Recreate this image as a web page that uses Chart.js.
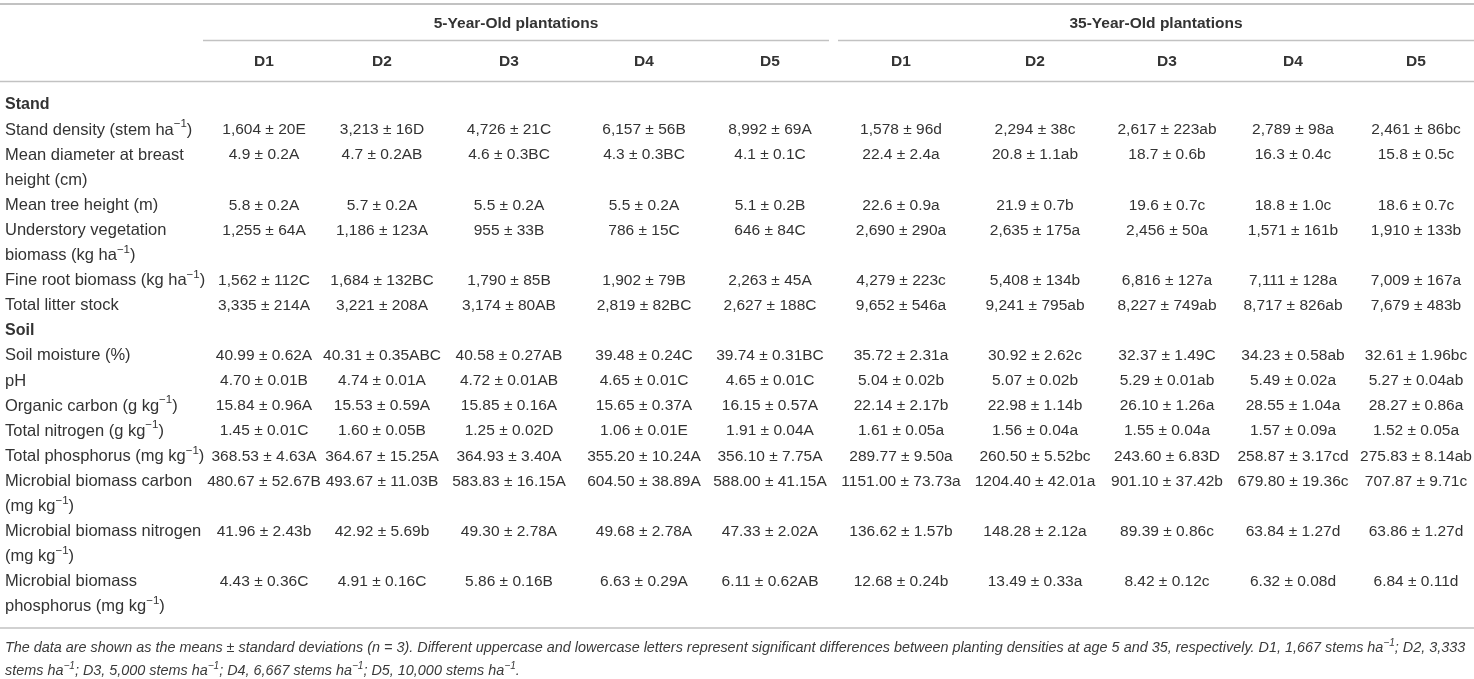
<!DOCTYPE html>
<html>
<head>
<meta charset="utf-8">
<script src="https://cdn.jsdelivr.net/npm/chart.js@4.4.1/dist/chart.umd.min.js"></script>
<style>
  html, body { margin: 0; padding: 0; background: #fff; }
  #wrap { width: 1474px; height: 679px; }
</style>
</head>
<body>
<div id="wrap"><canvas id="table"></canvas></div>
<script>
// table content
const groups = ["5-Year-Old plantations", "35-Year-Old plantations"];
const densities = ["D1", "D2", "D3", "D4", "D5"];
const sections = ["Stand", "Soil"];

// ^...^ marks a superscript, \n a wrapped line
const standLabels = [
  "Stand density (stem ha^−1^)",
  "Mean diameter at breast\nheight (cm)",
  "Mean tree height (m)",
  "Understory vegetation\nbiomass (kg ha^−1^)",
  "Fine root biomass (kg ha^−1^)",
  "Total litter stock"
];
const soilLabels = [
  "Soil moisture (%)",
  "pH",
  "Organic carbon (g kg^−1^)",
  "Total nitrogen (g kg^−1^)",
  "Total phosphorus (mg kg^−1^)",
  "Microbial biomass carbon\n(mg kg^−1^)",
  "Microbial biomass nitrogen\n(mg kg^−1^)",
  "Microbial biomass\nphosphorus (mg kg^−1^)"
];

const stand5 = [
  ["1,604 ± 20E", "3,213 ± 16D", "4,726 ± 21C", "6,157 ± 56B", "8,992 ± 69A"],
  ["4.9 ± 0.2A", "4.7 ± 0.2AB", "4.6 ± 0.3BC", "4.3 ± 0.3BC", "4.1 ± 0.1C"],
  ["5.8 ± 0.2A", "5.7 ± 0.2A", "5.5 ± 0.2A", "5.5 ± 0.2A", "5.1 ± 0.2B"],
  ["1,255 ± 64A", "1,186 ± 123A", "955 ± 33B", "786 ± 15C", "646 ± 84C"],
  ["1,562 ± 112C", "1,684 ± 132BC", "1,790 ± 85B", "1,902 ± 79B", "2,263 ± 45A"],
  ["3,335 ± 214A", "3,221 ± 208A", "3,174 ± 80AB", "2,819 ± 82BC", "2,627 ± 188C"]
];
const stand35 = [
  ["1,578 ± 96d", "2,294 ± 38c", "2,617 ± 223ab", "2,789 ± 98a", "2,461 ± 86bc"],
  ["22.4 ± 2.4a", "20.8 ± 1.1ab", "18.7 ± 0.6b", "16.3 ± 0.4c", "15.8 ± 0.5c"],
  ["22.6 ± 0.9a", "21.9 ± 0.7b", "19.6 ± 0.7c", "18.8 ± 1.0c", "18.6 ± 0.7c"],
  ["2,690 ± 290a", "2,635 ± 175a", "2,456 ± 50a", "1,571 ± 161b", "1,910 ± 133b"],
  ["4,279 ± 223c", "5,408 ± 134b", "6,816 ± 127a", "7,111 ± 128a", "7,009 ± 167a"],
  ["9,652 ± 546a", "9,241 ± 795ab", "8,227 ± 749ab", "8,717 ± 826ab", "7,679 ± 483b"]
];
const soil5 = [
  ["40.99 ± 0.62A", "40.31 ± 0.35ABC", "40.58 ± 0.27AB", "39.48 ± 0.24C", "39.74 ± 0.31BC"],
  ["4.70 ± 0.01B", "4.74 ± 0.01A", "4.72 ± 0.01AB", "4.65 ± 0.01C", "4.65 ± 0.01C"],
  ["15.84 ± 0.96A", "15.53 ± 0.59A", "15.85 ± 0.16A", "15.65 ± 0.37A", "16.15 ± 0.57A"],
  ["1.45 ± 0.01C", "1.60 ± 0.05B", "1.25 ± 0.02D", "1.06 ± 0.01E", "1.91 ± 0.04A"],
  ["368.53 ± 4.63A", "364.67 ± 15.25A", "364.93 ± 3.40A", "355.20 ± 10.24A", "356.10 ± 7.75A"],
  ["480.67 ± 52.67B", "493.67 ± 11.03B", "583.83 ± 16.15A", "604.50 ± 38.89A", "588.00 ± 41.15A"],
  ["41.96 ± 2.43b", "42.92 ± 5.69b", "49.30 ± 2.78A", "49.68 ± 2.78A", "47.33 ± 2.02A"],
  ["4.43 ± 0.36C", "4.91 ± 0.16C", "5.86 ± 0.16B", "6.63 ± 0.29A", "6.11 ± 0.62AB"]
];
const soil35 = [
  ["35.72 ± 2.31a", "30.92 ± 2.62c", "32.37 ± 1.49C", "34.23 ± 0.58ab", "32.61 ± 1.96bc"],
  ["5.04 ± 0.02b", "5.07 ± 0.02b", "5.29 ± 0.01ab", "5.49 ± 0.02a", "5.27 ± 0.04ab"],
  ["22.14 ± 2.17b", "22.98 ± 1.14b", "26.10 ± 1.26a", "28.55 ± 1.04a", "28.27 ± 0.86a"],
  ["1.61 ± 0.05a", "1.56 ± 0.04a", "1.55 ± 0.04a", "1.57 ± 0.09a", "1.52 ± 0.05a"],
  ["289.77 ± 9.50a", "260.50 ± 5.52bc", "243.60 ± 6.83D", "258.87 ± 3.17cd", "275.83 ± 8.14ab"],
  ["1151.00 ± 73.73a", "1204.40 ± 42.01a", "901.10 ± 37.42b", "679.80 ± 19.36c", "707.87 ± 9.71c"],
  ["136.62 ± 1.57b", "148.28 ± 2.12a", "89.39 ± 0.86c", "63.84 ± 1.27d", "63.86 ± 1.27d"],
  ["12.68 ± 0.24b", "13.49 ± 0.33a", "8.42 ± 0.12c", "6.32 ± 0.08d", "6.84 ± 0.11d"]
];

const footnote = [
  "The data are shown as the means ± standard deviations (n = 3). Different uppercase and lowercase letters represent significant differences between planting densities at age 5 and 35, respectively. D1, 1,667 stems ha^−1^; D2, 3,333",
  "stems ha^−1^; D3, 5,000 stems ha^−1^; D4, 6,667 stems ha^−1^; D5, 10,000 stems ha^−1^."
];

// layout (pixel units on both linear scales)
const W = 1474, H = 679;
const labelX = 5;
const colX = [264, 382, 509, 644, 770, 901, 1035, 1167, 1293, 1416];
const groupSpan = [[203, 829], [838, 1474]];
const firstRowY = 130, pitch = 25.1;
const groupY = 24, headY = 62, footY = [648, 671];
const rules = [
  { x0: 0, x1: W, y: 4, w: 2 },
  { x0: 203, x1: 829, y: 40.5, w: 1.5 },
  { x0: 838, x1: W, y: 40.5, w: 1.5 },
  { x0: 0, x1: W, y: 81.5, w: 1.5 },
  { x0: 0, x1: W, y: 628, w: 1.5 }
];
const labelSize = 16.5, cellSize = 15.5, headSize = 15.5, footSize = 14.4;

const FAM = '"Liberation Sans", Arial, sans-serif';
const TEXT = "#333";
const RULE = "#c2c2c2";

// stack the rows line by line
const rowItems = [];
let line = -1;
[[sections[0], standLabels, stand5, stand35], [sections[1], soilLabels, soil5, soil35]].forEach(([name, labels, a, b]) => {
  rowItems.push({ head: name, y: firstRowY + pitch * line });
  line += 1;
  labels.forEach((lab, i) => {
    rowItems.push({ label: lab, y: firstRowY + pitch * line, cells: a[i].concat(b[i]) });
    line += lab.split("\n").length;
  });
});
const bodyRows = rowItems.filter(r => r.cells);

const datasets = [];
datasets.push({
  label: "labels",
  align: "left",
  size: labelSize,
  texts: rowItems.map(r => r.head || r.label),
  bold: rowItems.map(r => !!r.head),
  data: rowItems.map(r => ({ x: labelX, y: r.y }))
});
colX.forEach((cx, c) => {
  datasets.push({
    label: (c < 5 ? "5y " : "35y ") + densities[c % 5],
    align: "center",
    size: cellSize,
    texts: bodyRows.map(r => r.cells[c]),
    bold: bodyRows.map(() => false),
    data: bodyRows.map(r => ({ x: cx, y: r.y }))
  });
});

function drawRich(ctx, text, x, y, align, style, size) {
  const lines = text.split("\n");
  lines.forEach((ln, li) => {
    const parts = ln.split("^");
    const fonts = parts.map((p, i) => (style ? style + " " : "") + (i % 2 ? (size * 0.7).toFixed(1) : size) + "px " + FAM);
    let total = 0;
    parts.forEach((p, i) => { ctx.font = fonts[i]; total += ctx.measureText(p).width; });
    let cx = align === "center" ? x - total / 2 : x;
    const ly = y + li * pitch;
    parts.forEach((p, i) => {
      ctx.font = fonts[i];
      ctx.fillText(p, cx, i % 2 ? ly - size * 0.36 : ly);
      cx += ctx.measureText(p).width;
    });
  });
}

const tablePlugin = {
  id: "tableText",
  afterDatasetsDraw(chart) {
    const { ctx, scales: { x, y } } = chart;
    ctx.save();
    ctx.textBaseline = "middle";
    ctx.textAlign = "left";
    ctx.fillStyle = TEXT;

    ctx.strokeStyle = RULE;
    rules.forEach(r => {
      ctx.lineWidth = r.w;
      ctx.beginPath();
      ctx.moveTo(x.getPixelForValue(r.x0), y.getPixelForValue(r.y));
      ctx.lineTo(x.getPixelForValue(r.x1), y.getPixelForValue(r.y));
      ctx.stroke();
    });

    groups.forEach((g, i) => {
      const mid = (groupSpan[i][0] + groupSpan[i][1]) / 2;
      drawRich(ctx, g, x.getPixelForValue(mid), y.getPixelForValue(groupY), "center", "bold", headSize);
    });
    colX.forEach((cx, c) => {
      drawRich(ctx, densities[c % 5], x.getPixelForValue(cx), y.getPixelForValue(headY), "center", "bold", headSize);
    });

    chart.data.datasets.forEach((ds, i) => {
      chart.getDatasetMeta(i).data.forEach((pt, j) => {
        drawRich(ctx, ds.texts[j], pt.x, pt.y, ds.align, ds.bold[j] ? "bold" : "", ds.bold[j] ? cellSize + 0.5 : ds.size);
      });
    });

    ctx.fillStyle = "#3a3a3a";
    footnote.forEach((f, i) => {
      drawRich(ctx, f, x.getPixelForValue(labelX), y.getPixelForValue(footY[i]), "left", "italic", footSize);
    });
    ctx.restore();
  }
};

new Chart(document.getElementById("table"), {
  type: "scatter",
  data: { datasets },
  options: {
    responsive: true,
    maintainAspectRatio: false,
    animation: false,
    layout: { padding: 0 },
    elements: { point: { radius: 0, hoverRadius: 0 } },
    plugins: { legend: { display: false }, tooltip: { enabled: false } },
    events: [],
    scales: {
      x: { type: "linear", min: 0, max: W, display: false },
      y: { type: "linear", min: 0, max: H, reverse: true, display: false }
    }
  },
  plugins: [tablePlugin]
});
</script>
</body>
</html>
